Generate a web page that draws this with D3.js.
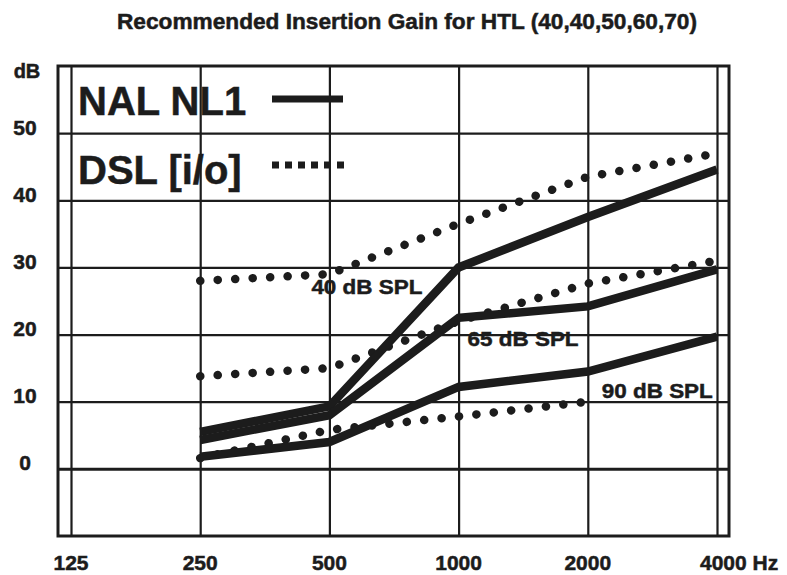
<!DOCTYPE html>
<html>
<head>
<meta charset="utf-8">
<script src="https://cdn.jsdelivr.net/npm/d3@7"></script>
<style>
    body { margin: 0; background: #fff; }
    svg text { font-family: "Liberation Sans", Arial, sans-serif; font-weight: bold; fill: #1c1c1c; stroke: #1c1c1c; stroke-width: 0.5; }
</style>
</head>
<body>
<div id="chart"></div>
<script>
// frequencies (Hz) and gains (dB)
const freqs = [250, 500, 1000, 2000, 4000];
const xTicks = [125, 250, 500, 1000, 2000, 4000];
const yTicks = [0, 10, 20, 30, 40, 50];

const nal40 = [5.5, 9.3, 30.0, 37.5, 44.6];
const nal65 = [4.3, 8.0, 22.5, 24.2, 29.7];
const nal90 = [1.8, 4.0, 12.2, 14.5, 19.7];

const dsl40 = [28.0, 29.0, 36.5, 43.5, 47.0];
const dsl65 = [13.8, 15.0, 22.0, 27.6, 31.0];
const dsl90 = [1.6, 5.8, 7.8, 10.0]; // DSL line for 90 dB stops at 2000 Hz

const levelLabels = ["40 dB SPL", "65 dB SPL", "90 dB SPL"];
const title = "Recommended Insertion Gain for HTL (40,40,50,60,70)";

class GainChart {
    constructor(selector) {
        this.svg = d3.select(selector).append("svg")
            .attr("width", 787)
            .attr("height", 575);
        this.x = d3.scaleLog().base(2).domain([125, 4000]).range([71, 717]);
        this.y = d3.scaleLinear().domain([-10, 60]).range([536, 66]);
        this.ink = "#1c1c1c";
    }

    render() {
        const svg = this.svg, x = this.x, y = this.y;

        svg.append("text")
            .attr("x", 407).attr("y", 29)
            .attr("text-anchor", "middle")
            .attr("font-size", 22)
            .attr("textLength", 580)
            .attr("lengthAdjust", "spacingAndGlyphs")
            .text(title);

        const left = x(125) - 13, right = x(4000) + 12;

        // horizontal grid
        const yAxis = d3.axisLeft(y).tickValues(yTicks).tickSize(-(right - left)).tickFormat("");
        svg.append("g")
            .attr("transform", `translate(${left},0)`)
            .call(yAxis)
            .call(g => g.select(".domain").remove())
            .call(g => g.selectAll("line")
                .attr("stroke", this.ink)
                .attr("stroke-width", d => d === 0 ? 3 : 2.2));

        // vertical grid
        const xAxis = d3.axisBottom(x).tickValues(xTicks).tickSize(-(y(-10) - y(60))).tickFormat("");
        svg.append("g")
            .attr("transform", `translate(0,${y(-10)})`)
            .call(xAxis)
            .call(g => g.select(".domain").remove())
            .call(g => g.selectAll("line").attr("stroke", this.ink).attr("stroke-width", 2.2));

        svg.append("rect")
            .attr("x", left).attr("y", y(60))
            .attr("width", right - left).attr("height", y(-10) - y(60))
            .attr("fill", "none")
            .attr("stroke", this.ink)
            .attr("stroke-width", 3);

        // tick labels
        svg.append("g")
            .selectAll("text")
            .data(yTicks)
            .enter()
            .append("text")
            .attr("x", 25)
            .attr("y", d => y(d) + 1.5)
            .attr("text-anchor", "middle")
            .attr("font-size", 21)
            .text(d => d);

        svg.append("text")
            .attr("x", 27).attr("y", 78)
            .attr("text-anchor", "middle")
            .attr("font-size", 20)
            .text("dB");

        svg.append("g")
            .selectAll("text")
            .data(xTicks)
            .enter()
            .append("text")
            .attr("x", d => d === 4000 ? x(d) - 17 : x(d))
            .attr("y", 570)
            .attr("text-anchor", d => d === 4000 ? "start" : "middle")
            .attr("font-size", 21)
            .text(d => d === 4000 ? d + " Hz" : d);

        // curves
        const line = d3.line()
            .x((d, i) => x(freqs[i]))
            .y(d => y(d));

        const solid = [nal40, nal65, nal90];
        const dotted = [dsl40, dsl65, dsl90];

        svg.append("g")
            .selectAll("path")
            .data(dotted)
            .enter()
            .append("path")
            .attr("d", line)
            .attr("fill", "none")
            .attr("stroke", this.ink)
            .attr("stroke-width", 8.5)
            .attr("stroke-linecap", "round")
            .attr("stroke-dasharray", "0.1 17.4");

        svg.append("g")
            .selectAll("path")
            .data(solid)
            .enter()
            .append("path")
            .attr("d", line)
            .attr("fill", "none")
            .attr("stroke", this.ink)
            .attr("stroke-width", 8.5);

        // level annotations
        const labelPos = [
            [x(500) - 18, y(26)],
            [x(1000) + 9, y(18.3)],
            [x(2000) + 14, y(10.5)]
        ];
        svg.append("g")
            .selectAll("text")
            .data(levelLabels)
            .enter()
            .append("text")
            .attr("x", (d, i) => labelPos[i][0])
            .attr("y", (d, i) => labelPos[i][1])
            .attr("font-size", 21)
            .attr("textLength", 111)
            .attr("lengthAdjust", "spacingAndGlyphs")
            .text(d => d);

        // legend
        const legend = svg.append("g");
        legend.append("text")
            .attr("x", 78).attr("y", 115)
            .attr("font-size", 40)
            .text("NAL NL1");
        legend.append("line")
            .attr("x1", 272).attr("x2", 343)
            .attr("y1", 99).attr("y2", 99)
            .attr("stroke", this.ink)
            .attr("stroke-width", 7);
        legend.append("text")
            .attr("x", 78).attr("y", 184)
            .attr("font-size", 40)
            .text("DSL [i/o]");
        legend.append("line")
            .attr("x1", 272).attr("x2", 344)
            .attr("y1", 165).attr("y2", 165)
            .attr("stroke", this.ink)
            .attr("stroke-width", 7)
            .attr("stroke-dasharray", "7 6");
    }
}

const chart = new GainChart("#chart");
chart.render();
</script>
</body>
</html>
